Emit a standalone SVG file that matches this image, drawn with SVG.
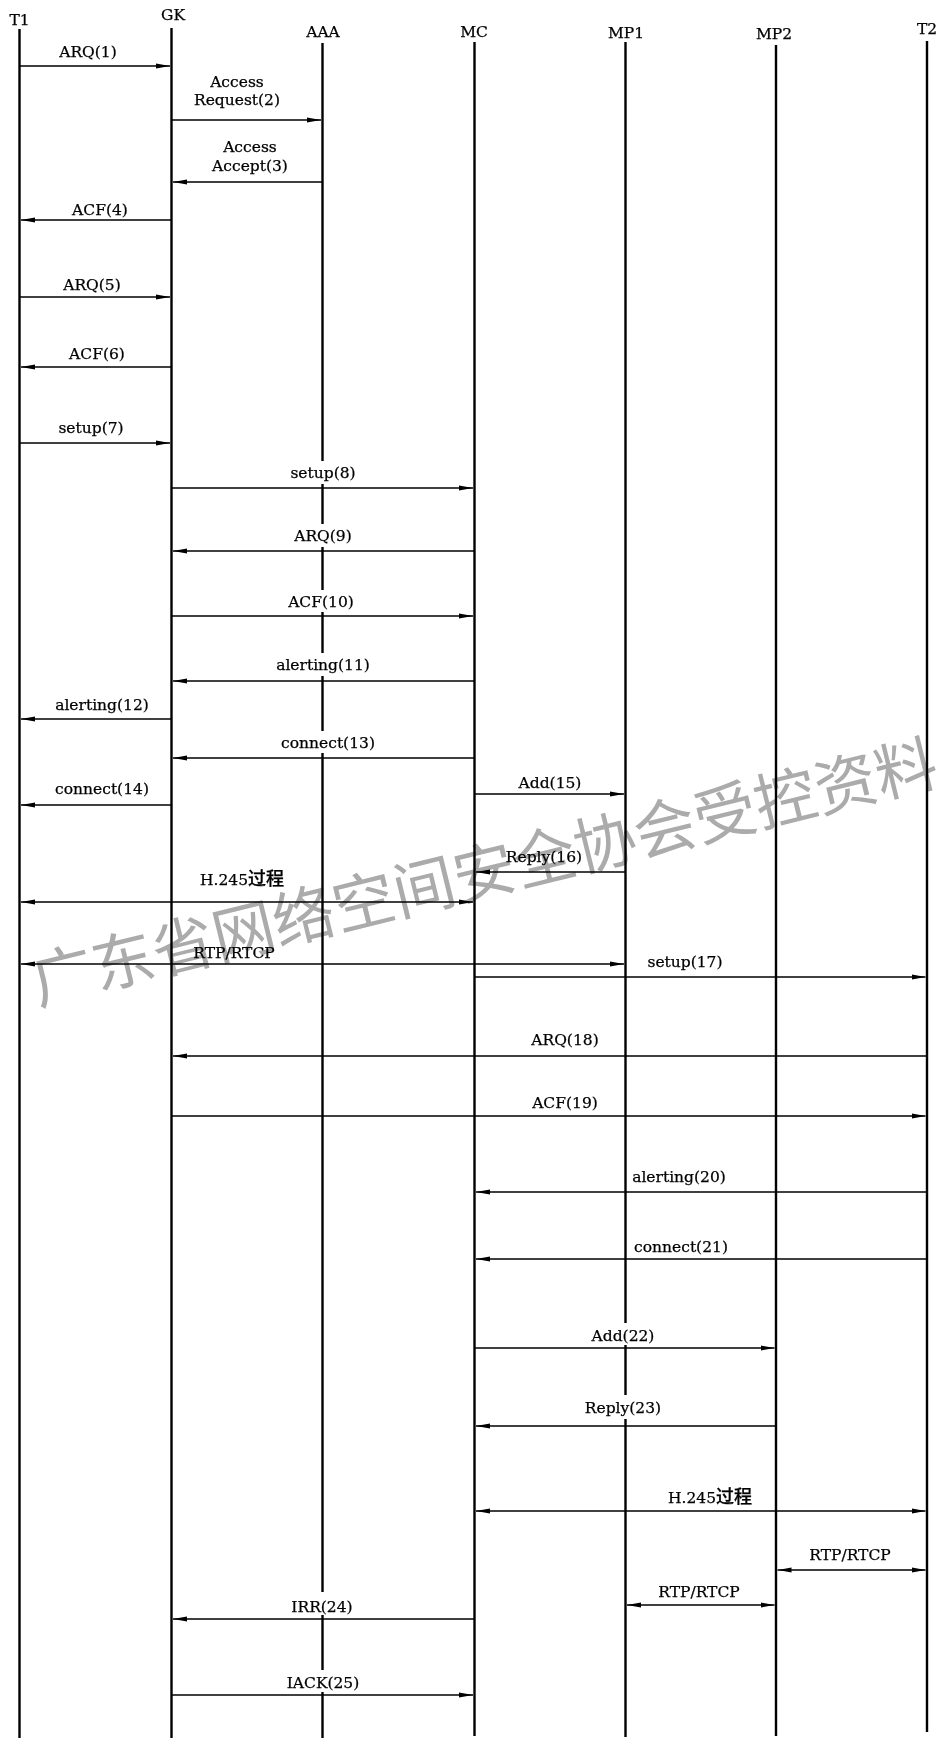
<svg xmlns="http://www.w3.org/2000/svg" width="940" height="1742" viewBox="0 0 940 1742">
<style>
text{font-family:"DejaVu Serif","Noto Sans CJK SC",serif;font-size:15.5px;fill:#000;stroke:#000;stroke-width:0.25;text-anchor:middle}
.life{stroke:#000;stroke-width:2.4;fill:none}
.msg line{stroke:#000;stroke-width:1.4;fill:none}
.gap{fill:#fff}
.cjk{font-family:"Noto Sans CJK SC",sans-serif;font-size:18px;font-weight:500}
.wm{font-family:"Noto Sans CJK SC",sans-serif;font-size:62px;font-weight:400;fill:#ababab;stroke:none;text-anchor:start;mix-blend-mode:multiply}
</style>
<defs>
<marker id="ah" viewBox="0 0 14 6" refX="14" refY="3" markerWidth="14" markerHeight="6" markerUnits="userSpaceOnUse" orient="auto-start-reverse">
<path d="M0,0.5 L14,3 L0,5.5 Z" fill="#000"/>
</marker>
</defs>
<rect width="940" height="1742" fill="#fff"/>

<g id="participants">
<g id="T1"><text x="19.5" y="25">T1</text><line class="life" x1="19.5" y1="29" x2="19.5" y2="1738"/></g>
<g id="GK"><text x="173" y="20">GK</text><line class="life" x1="171.5" y1="28" x2="171.5" y2="1738"/></g>
<g id="AAA"><text x="323" y="37">AAA</text><line class="life" x1="322.5" y1="43" x2="322.5" y2="1738"/></g>
<g id="MC"><text x="474" y="37">MC</text><line class="life" x1="474.5" y1="42" x2="474.5" y2="1736"/></g>
<g id="MP1"><text x="626" y="38">MP1</text><line class="life" x1="625.5" y1="42" x2="625.5" y2="1737"/></g>
<g id="MP2"><text x="774" y="39">MP2</text><line class="life" x1="776" y1="45" x2="776" y2="1736"/></g>
<g id="T2"><text x="927" y="34">T2</text><line class="life" x1="927" y1="41" x2="927" y2="1732"/></g>
</g>

<g id="label-gaps">
<rect class="gap" x="317" y="461" width="11" height="23"/>
<rect class="gap" x="317" y="524" width="11" height="23"/>
<rect class="gap" x="317" y="590" width="11" height="22"/>
<rect class="gap" x="317" y="653" width="11" height="23"/>
<rect class="gap" x="317" y="731" width="11" height="22"/>
<rect class="gap" x="620" y="1323" width="11" height="22"/>
<rect class="gap" x="620" y="1395" width="11" height="24"/>
<rect class="gap" x="317" y="1592" width="11" height="23"/>
<rect class="gap" x="317" y="1670" width="11" height="22"/>
</g>

<g id="connectors">
<g class="msg" id="m1"><line x1="19.5" y1="66" x2="170" y2="66" marker-end="url(#ah)"/><text x="88" y="57">ARQ(1)</text></g>
<g class="msg" id="m2"><line x1="171.5" y1="120" x2="321" y2="120" marker-end="url(#ah)"/><text x="237" y="87">Access</text><text x="237" y="105">Request(2)</text></g>
<g class="msg" id="m3"><line x1="322.5" y1="182" x2="173" y2="182" marker-end="url(#ah)"/><text x="250" y="152">Access</text><text x="250" y="171">Accept(3)</text></g>
<g class="msg" id="m4"><line x1="171.5" y1="220" x2="21" y2="220" marker-end="url(#ah)"/><text x="100" y="215">ACF(4)</text></g>
<g class="msg" id="m5"><line x1="19.5" y1="297" x2="170" y2="297" marker-end="url(#ah)"/><text x="92" y="290">ARQ(5)</text></g>
<g class="msg" id="m6"><line x1="171.5" y1="367" x2="21" y2="367" marker-end="url(#ah)"/><text x="97" y="359">ACF(6)</text></g>
<g class="msg" id="m7"><line x1="19.5" y1="443" x2="170" y2="443" marker-end="url(#ah)"/><text x="91" y="433">setup(7)</text></g>
<g class="msg" id="m8"><line x1="171.5" y1="488" x2="473" y2="488" marker-end="url(#ah)"/><text x="323" y="478">setup(8)</text></g>
<g class="msg" id="m9"><line x1="474.5" y1="551" x2="173" y2="551" marker-end="url(#ah)"/><text x="323" y="541">ARQ(9)</text></g>
<g class="msg" id="m10"><line x1="171.5" y1="616" x2="473" y2="616" marker-end="url(#ah)"/><text x="321" y="607">ACF(10)</text></g>
<g class="msg" id="m11"><line x1="474.5" y1="681" x2="173" y2="681" marker-end="url(#ah)"/><text x="323" y="670">alerting(11)</text></g>
<g class="msg" id="m12"><line x1="171.5" y1="719" x2="21" y2="719" marker-end="url(#ah)"/><text x="102" y="710">alerting(12)</text></g>
<g class="msg" id="m13"><line x1="474.5" y1="758" x2="173" y2="758" marker-end="url(#ah)"/><text x="328" y="748">connect(13)</text></g>
<g class="msg" id="m14"><line x1="171.5" y1="805" x2="21" y2="805" marker-end="url(#ah)"/><text x="102" y="794">connect(14)</text></g>
<g class="msg" id="m15"><line x1="474.5" y1="794" x2="624" y2="794" marker-end="url(#ah)"/><text x="550" y="788">Add(15)</text></g>
<g class="msg" id="m16"><line x1="625.5" y1="872" x2="476" y2="872" marker-end="url(#ah)"/><text x="544" y="862">Reply(16)</text></g>
<g class="msg" id="h245a"><line x1="21" y1="902" x2="473" y2="902" marker-start="url(#ah)" marker-end="url(#ah)"/><text x="242" y="885">H.245<tspan class="cjk">过程</tspan></text></g>
<g class="msg" id="rtp1"><line x1="21" y1="964" x2="624" y2="964" marker-start="url(#ah)" marker-end="url(#ah)"/><text x="234" y="958">RTP/RTCP</text></g>
<g class="msg" id="m17"><line x1="474.5" y1="977" x2="925.5" y2="977" marker-end="url(#ah)"/><text x="685" y="967">setup(17)</text></g>
<g class="msg" id="m18"><line x1="927" y1="1056" x2="173" y2="1056" marker-end="url(#ah)"/><text x="565" y="1045">ARQ(18)</text></g>
<g class="msg" id="m19"><line x1="171.5" y1="1116" x2="925.5" y2="1116" marker-end="url(#ah)"/><text x="565" y="1108">ACF(19)</text></g>
<g class="msg" id="m20"><line x1="927" y1="1192" x2="476" y2="1192" marker-end="url(#ah)"/><text x="679" y="1182">alerting(20)</text></g>
<g class="msg" id="m21"><line x1="927" y1="1259" x2="476" y2="1259" marker-end="url(#ah)"/><text x="681" y="1252">connect(21)</text></g>
<g class="msg" id="m22"><line x1="474.5" y1="1348" x2="774.5" y2="1348" marker-end="url(#ah)"/><text x="623" y="1341">Add(22)</text></g>
<g class="msg" id="m23"><line x1="776" y1="1426" x2="476" y2="1426" marker-end="url(#ah)"/><text x="623" y="1413">Reply(23)</text></g>
<g class="msg" id="h245b"><line x1="476" y1="1511" x2="925.5" y2="1511" marker-start="url(#ah)" marker-end="url(#ah)"/><text x="710" y="1503">H.245<tspan class="cjk">过程</tspan></text></g>
<g class="msg" id="rtp2"><line x1="777.5" y1="1570" x2="925.5" y2="1570" marker-start="url(#ah)" marker-end="url(#ah)"/><text x="850" y="1560">RTP/RTCP</text></g>
<g class="msg" id="rtp3"><line x1="627" y1="1605" x2="774.5" y2="1605" marker-start="url(#ah)" marker-end="url(#ah)"/><text x="699" y="1597">RTP/RTCP</text></g>
<g class="msg" id="m24"><line x1="474.5" y1="1619" x2="173" y2="1619" marker-end="url(#ah)"/><text x="322" y="1612">IRR(24)</text></g>
<g class="msg" id="m25"><line x1="171.5" y1="1695" x2="473" y2="1695" marker-end="url(#ah)"/><text x="323" y="1688">IACK(25)</text></g>
</g>

<text class="wm" x="38" y="1005" transform="rotate(-13.8 38 1005)">广东省网络空间安全协会受控资料</text>
</svg>
